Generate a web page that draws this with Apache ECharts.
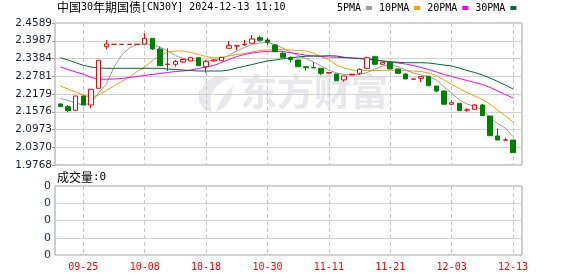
<!DOCTYPE html>
<html><head><meta charset="utf-8">
<script src="https://cdn.jsdelivr.net/npm/echarts@6/dist/echarts.min.js"></script>
<style>html,body{margin:0;padding:0;background:#fff}#c{width:578px;height:276px}</style>
</head><body><div id="c"></div>
<script>
const dates = ['09-20','09-23','09-24','09-25','09-26','09-27','09-30','10-01','10-02','10-03',
 '10-04','10-08','10-09','10-10','10-11','10-14','10-15','10-16','10-17','10-18',
 '10-21','10-22','10-23','10-24','10-25','10-28','10-29','10-30','10-31','11-01',
 '11-04','11-05','11-06','11-07','11-08','11-11','11-12','11-13','11-14','11-15',
 '11-18','11-19','11-20','11-21','11-22','11-25','11-26','11-27','11-28','11-29',
 '12-02','12-03','12-04','12-05','12-06','12-09','12-10','12-11','12-12','12-13'];
const openV = [2.1840,2.1748,2.1625,2.2111,2.1805,2.2372,2.3784,2.3864,2.3864,2.3864,
 2.3864,2.3876,2.4070,2.3706,2.3180,2.3187,2.3265,2.3300,2.3412,2.3105,
 2.3300,2.3310,2.3730,2.3805,2.3860,2.3900,2.4090,2.4012,2.3842,2.3560,
 2.3412,2.3333,2.3105,2.3075,2.3051,2.2890,2.2858,2.2657,2.2824,2.2881,
 2.3051,2.3445,2.3187,2.3255,2.3028,2.2858,2.2680,2.2712,2.2780,2.2450,
 2.2280,2.1829,2.1863,2.1630,2.1659,2.1805,2.1432,2.0753,2.0610,2.0617];
const closeV = [2.1750,2.1612,2.2111,2.1805,2.2338,2.3323,2.3876,2.3866,2.3866,2.3866,
 2.3866,2.4070,2.3706,2.3139,2.3195,2.3275,2.3350,2.3412,2.3139,2.3275,
 2.3333,2.3424,2.3818,2.3818,2.3870,2.4046,2.4002,2.3934,2.3615,2.3425,
 2.3343,2.3105,2.3071,2.3065,2.2881,2.2910,2.2630,2.2790,2.2847,2.3017,
 2.3412,2.3187,2.3255,2.3028,2.2881,2.2688,2.2690,2.2766,2.2460,2.2280,
 2.1829,2.1883,2.1612,2.1640,2.1805,2.1442,2.0763,2.0617,2.0620,2.0186];
const lowV = [2.1740,2.1560,2.1625,2.1805,2.1693,2.2372,2.3696,2.3864,2.3864,2.3864,
 2.3864,2.3876,2.3672,2.3139,2.2959,2.3105,2.3240,2.3300,2.3139,2.2902,
 2.3270,2.3310,2.3730,2.3662,2.3810,2.3900,2.3954,2.3842,2.3600,2.3425,
 2.3255,2.3105,2.2969,2.3065,2.2824,2.2870,2.2630,2.2596,2.2824,2.2824,
 2.3051,2.3187,2.3187,2.3028,2.2881,2.2688,2.2680,2.2576,2.2460,2.2246,
 2.1829,2.1829,2.1612,2.1578,2.1659,2.1442,2.0763,2.0617,2.0610,2.0186];
const highV = [2.1850,2.1805,2.2111,2.2111,2.2338,2.3323,2.4012,2.3866,2.3866,2.3866,
 2.3866,2.4239,2.4070,2.3784,2.3730,2.3333,2.3384,2.3420,2.3412,2.3333,
 2.3360,2.3424,2.3978,2.3818,2.4012,2.4182,2.4158,2.4090,2.3860,2.3615,
 2.3458,2.3340,2.3105,2.3255,2.3051,2.2920,2.2858,2.2790,2.2870,2.3051,
 2.3435,2.3479,2.3255,2.3255,2.3028,2.2880,2.2690,2.2766,2.2780,2.2450,
 2.2280,2.1965,2.1863,2.1693,2.1839,2.1839,2.1432,2.1014,2.0695,2.0617];
const ma5 = [2.2033,2.1958,2.1873,2.1805,2.1873,2.2213,2.2518,2.3095,2.3503,2.3740,
 2.3859,2.3876,2.3859,2.3774,2.3639,2.3486,2.3384,2.3316,2.3299,2.3299,
 2.3316,2.3367,2.3503,2.3639,2.3757,2.3859,2.3910,2.3927,2.3859,2.3740,
 2.3605,2.3486,2.3384,2.3265,2.3129,2.2993,2.2892,2.2841,2.2824,2.2841,
 2.2909,2.3027,2.3129,2.3163,2.3112,2.2993,2.2892,2.2824,2.2773,2.2654,
 2.2416,2.2213,2.1975,2.1839,2.1754,2.1635,2.1381,2.1177,2.1024,2.0729];
const ma10 = [2.2450,2.2348,2.2246,2.2145,2.2060,2.2145,2.2297,2.2450,2.2603,2.2756,
 2.2942,2.3095,2.3316,2.3486,2.3605,2.3639,2.3639,2.3588,2.3520,2.3452,
 2.3401,2.3418,2.3469,2.3520,2.3554,2.3605,2.3656,2.3672,2.3689,2.3689,
 2.3672,2.3656,2.3639,2.3561,2.3452,2.3333,2.3163,2.3061,2.2993,2.2976,
 2.2970,2.2976,2.2983,2.2983,2.2983,2.2976,2.2959,2.2942,2.2892,2.2807,
 2.2654,2.2501,2.2365,2.2229,2.2111,2.1992,2.1839,2.1635,2.1432,2.1228];
const ma20 = [2.3095,2.3010,2.2926,2.2848,2.2739,2.2688,2.2678,2.2688,2.2705,2.2739,
 2.2773,2.2807,2.2841,2.2875,2.2909,2.2943,2.2959,2.2993,2.3044,2.3095,
 2.3146,2.3248,2.3350,2.3452,2.3520,2.3571,2.3605,2.3622,2.3632,2.3622,
 2.3581,2.3537,2.3493,2.3469,2.3452,2.3435,2.3425,2.3411,2.3401,2.3391,
 2.3384,2.3350,2.3299,2.3265,2.3231,2.3197,2.3146,2.3078,2.3010,2.2926,
 2.2841,2.2773,2.2705,2.2637,2.2569,2.2501,2.2399,2.2280,2.2162,2.2043];
const ma30 = [2.3411,2.3333,2.3241,2.3153,2.3095,2.3061,2.3051,2.3051,2.3051,2.3051,
 2.3051,2.3051,2.3051,2.3051,2.3027,2.3010,2.2993,2.2976,2.2959,2.2959,
 2.2959,2.2959,2.2993,2.3061,2.3119,2.3180,2.3241,2.3299,2.3333,2.3377,
 2.3411,2.3435,2.3459,2.3469,2.3469,2.3479,2.3469,2.3425,2.3401,2.3377,
 2.3357,2.3333,2.3299,2.3275,2.3256,2.3241,2.3241,2.3241,2.3231,2.3197,
 2.3163,2.3129,2.3061,2.2976,2.2909,2.2824,2.2722,2.2603,2.2484,2.2348];
const volume = [0,0,0,0,0,0,0,0,0,0, 0,0,0,0,0,0,0,0,0,0, 0,0,0,0,0,0,0,0,0,0,
 0,0,0,0,0,0,0,0,0,0, 0,0,0,0,0,0,0,0,0,0, 0,0,0,0,0,0,0,0,0,0];
const yTickLabels = ['1.9768','2.0370','2.0973','2.1576','2.2179','2.2781','2.3384','2.3987','2.4589'];
const volTickLabels = ['0','0','0','0','0'];
const xLabelDates = ['09-25','10-08','10-18','10-30','11-11','11-21','12-03','12-13'];
const seriesNames = ['5PMA','10PMA','20PMA','30PMA'];
const yMin = 1.9768, yMax = 2.4589;

const labelSet = new Set(xLabelDates);
const showIdx = (i, v) => labelSet.has(v);
const MONO = 'DejaVu Sans Mono';
const CJK = 'Noto Sans CJK SC';
const dashed = {show:true, interval: showIdx, lineStyle:{color:'#c8c8c8', type:[4,3], width:1}};
const chart = echarts.init(document.getElementById('c'), null, {renderer:'canvas'});
chart.setOption({
  animation:false,
  backgroundColor:'#fff',
  title:{
    text:'{c|中国}{a|30}{c|年期国债}{a|[CN30Y] 2024-12-13 11:10}',
    left:57, top:1, padding:0,
    textStyle:{fontWeight:'normal', rich:{
      c:{fontFamily:CJK, fontSize:12, fontWeight:'normal', color:'#000'},
      a:{fontFamily:MONO, fontSize:10, fontWeight:'normal', color:'#000'}
    }}
  },
  legend:{
    data:seriesNames, left:337, top:3, padding:0, align:'right', icon:'rect',
    itemWidth:6, itemHeight:4, itemGap:7, selectedMode:false,
    textStyle:{fontFamily:MONO, fontSize:10, color:'#000'}
  },
  graphic:[
    {type:'polygon', z:0, silent:true,
     shape:{points:[[216,76],[206,82],[199,92],[199,102],[204,109],[212,112],[210,104],[211,95],[216,87],[223,81],[232,78]]},
     style:{fill:'#e7e7ec'}},
    {type:'polygon', z:0, silent:true,
     shape:{points:[[216,112],[225,107],[231,98],[233,86],[226,93],[220,102]]},
     style:{fill:'#e7e7ec'}},
    {type:'text', x:240, y:73, z:0, silent:true,
     style:{text:'东方财富', font:'bold 37px "Noto Sans CJK SC"', fill:'#e7e7ec'}},
    {type:'text', x:57, y:171, silent:true,
     style:{text:'{c|成交量}{a|:0}', rich:{c:{fontFamily:CJK,fontSize:12,fill:'#000'},a:{fontFamily:MONO,fontSize:11,fill:'#000'}}}}
  ],
  grid:[
    {left:55, top:23, width:467, height:142, show:true, borderColor:'#9a9a9a', borderWidth:1, backgroundColor:'transparent'},
    {left:60.3, top:23, width:452.7, height:142},
    {left:55, top:186, width:467, height:69, show:true, borderColor:'#9a9a9a', borderWidth:1, backgroundColor:'transparent'},
    {left:60.3, top:186, width:452.7, height:69}
  ],
  xAxis:[
    {gridIndex:0, type:'value', show:false, min:0, max:1},
    {gridIndex:1, type:'category', data:dates, boundaryGap:false,
     axisLine:{show:false}, axisTick:{show:false}, axisLabel:{show:false}, splitLine:dashed},
    {gridIndex:2, type:'value', show:false, min:0, max:1},
    {gridIndex:3, type:'category', data:dates, boundaryGap:false,
     axisLine:{show:false}, axisTick:{show:false},
     axisLabel:{show:true, interval:showIdx, color:'#ff0000', fontFamily:MONO, fontSize:10, margin:7},
     splitLine:dashed}
  ],
  yAxis:[
    {gridIndex:0, type:'value', min:0, max:8, interval:1,
     axisLine:{show:false}, axisTick:{show:true, length:3, lineStyle:{color:'#9a9a9a'}},
     axisLabel:{formatter:(v)=>yTickLabels[Math.round(v)], fontFamily:'DejaVu Sans', fontSize:10.5, color:'#1c1c38', margin:3},
     splitLine:{show:true, lineStyle:{color:'#d2d2d2', width:1}}},
    {gridIndex:1, type:'value', min:yMin, max:yMax, show:false, splitLine:{show:false}},
    {gridIndex:2, type:'value', min:0, max:4, interval:1,
     axisLine:{show:false}, axisTick:{show:false},
     axisLabel:{formatter:(v)=>volTickLabels[Math.round(v)], fontFamily:'DejaVu Sans', fontSize:11, color:'#1c2c6c', margin:4},
     splitLine:{show:true, lineStyle:{color:'#d2d2d2', width:1}}},
    {gridIndex:3, type:'value', min:0, max:1, show:false, splitLine:{show:false}}
  ],
  series:[
    {name:'K', type:'candlestick', xAxisIndex:1, yAxisIndex:1, barWidth:5, clip:false, z:5,
     data: dates.map((d,i)=>[openV[i], closeV[i], lowV[i], highV[i]]),
     itemStyle:{color:'#ffffff', color0:'#008000', borderColor:'#ff0000', borderColor0:'#008000', borderWidth:1}},
    {name:seriesNames[0], type:'line', xAxisIndex:1, yAxisIndex:1, data:ma5, symbol:'none', z:3,
     itemStyle:{color:'#9c9c9c'}, lineStyle:{color:'#9c9c9c', width:1}},
    {name:seriesNames[1], type:'line', xAxisIndex:1, yAxisIndex:1, data:ma10, symbol:'none', z:3,
     itemStyle:{color:'#f2a100'}, lineStyle:{color:'#f2a100', width:1}},
    {name:seriesNames[2], type:'line', xAxisIndex:1, yAxisIndex:1, data:ma20, symbol:'none', z:3,
     itemStyle:{color:'#ff00ff'}, lineStyle:{color:'#ff00ff', width:1}},
    {name:seriesNames[3], type:'line', xAxisIndex:1, yAxisIndex:1, data:ma30, symbol:'none', z:3,
     itemStyle:{color:'#006b2e'}, lineStyle:{color:'#006b2e', width:1}},
    {name:'成交量', type:'bar', xAxisIndex:3, yAxisIndex:3, data:volume, barWidth:5, itemStyle:{color:'#ff0000'}}
  ]
});
</script></body></html>
